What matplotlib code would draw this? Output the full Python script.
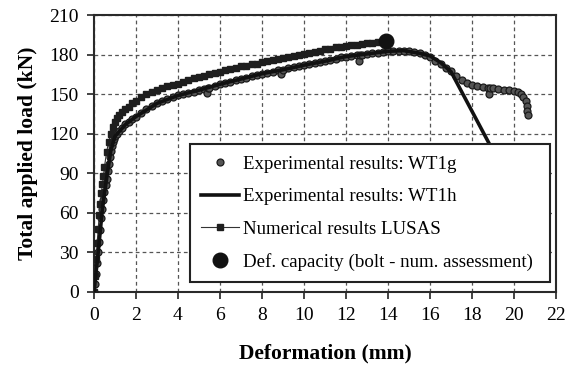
import matplotlib

matplotlib.use("Agg")
import matplotlib.pyplot as plt

plt.rcParams["font.family"] = ["Liberation Serif", "DejaVu Serif"]

# Numerical results (LUSAS), up to the bolt deformation capacity
num_x = [0, 0.05, 0.1, 0.15, 0.2, 0.25, 0.3, 0.35, 0.4, 0.45, 0.5, 0.6, 0.7, 0.8,
         0.9, 1.0, 1.1, 1.2, 1.35, 1.5, 1.65, 1.8, 2.0, 2.25, 2.5, 2.75, 3.0, 3.25,
         3.5, 3.75, 4.0, 4.25, 4.5, 4.75, 5.0, 5.25, 5.5, 5.75, 6.0, 6.25, 6.5,
         6.75, 7.0, 7.25, 7.5, 7.75, 8.0, 8.25, 8.5, 8.75, 9.0, 9.25, 9.5, 9.75,
         10.0, 10.25, 10.5, 10.75, 11.0, 11.25, 11.5, 11.75, 12.0, 12.25, 12.5,
         12.75, 13.0, 13.25, 13.5, 13.75, 13.9]
num_y = [0, 12, 25, 37, 48, 58, 67, 75, 82, 88, 95, 106, 114, 120,
         125, 129, 132, 134, 136.5, 138.5, 140.5, 143, 145, 147.5, 150, 152, 153, 154.5,
         156, 157, 158, 159, 160.5, 162, 163, 164, 165, 166, 167, 168, 169,
         170, 171, 171.5, 172.5, 173, 174, 175, 176, 176.5, 177.5, 178.5, 179, 180,
         180.5, 181.5, 182, 183, 184, 184.5, 185.5, 186, 186.5, 187, 187.5,
         188, 188.5, 189, 189.5, 190, 190.5]

# Experimental test WT1g (individual readings, incl. small unloadings)
wt1g_x = [0, 0.05, 0.1, 0.15, 0.2, 0.25, 0.3, 0.35, 0.4, 0.45, 0.5, 0.55, 0.6, 0.65,
          0.7, 0.75, 0.8, 0.85, 0.9, 0.95, 1.0, 1.1, 1.2, 1.35, 1.5, 1.65, 1.8, 2.0,
          2.25, 2.5, 2.75, 3.0, 3.25, 3.5, 3.75, 4.0, 4.25, 4.5, 4.75, 5.0, 5.25,
          5.4, 5.45, 5.5, 5.75, 6.0, 6.25, 6.5, 6.75, 7.0, 7.25, 7.5, 7.75, 8.0,
          8.25, 8.5, 8.75, 8.9, 9.0, 9.25, 9.5, 9.75, 10.0, 10.25, 10.5, 10.75,
          11.0, 11.25, 11.5, 11.75, 12.0, 12.25, 12.5, 12.6, 12.65, 12.75, 13.0,
          13.25, 13.5, 13.75, 14.0, 14.25, 14.5, 14.75, 15.0, 15.25, 15.5, 15.75,
          16.0, 16.25, 16.5, 16.75, 17.0, 17.25, 17.5, 17.75, 18.0, 18.25, 18.5,
          18.75, 18.8, 18.85, 19.0, 19.25, 19.5, 19.75, 20.0, 20.2, 20.35, 20.45,
          20.55, 20.6, 20.62, 20.65]
wt1g_y = [0, 6, 14, 22, 30, 38, 47, 56, 63, 70, 76, 81, 86, 92,
          97, 102, 107, 111, 114, 116, 118, 120, 122, 124.5, 127, 129, 131, 133,
          136, 138.5, 141, 143, 144.5, 146, 147.5, 149, 150, 151, 152, 153, 154,
          150.5, 154.5, 155, 156, 157.5, 158.5, 159.5, 160.5, 161.5, 162.5, 163.5, 164.5, 165.5,
          166, 167, 168, 165, 168.5, 169.5, 170.5, 171, 172, 173, 173.5, 174.5,
          175, 176, 177, 178, 178.5, 179, 179.5, 175, 179.5, 180, 180.5,
          181, 181.5, 182, 182.5, 183, 183, 183, 182.5, 182, 181, 179.5,
          178, 175.5, 172.5, 170, 167.5, 164, 161, 158.5, 157, 156, 155.5,
          155, 150, 155, 154.5, 154, 153.5, 153, 152.5, 151.5, 150, 148,
          145, 141, 137.5, 134]

# Experimental test WT1h (continuous record)
wt1h_x = [0, 0.2, 0.4, 0.6, 0.8, 1.0, 1.5, 2.0, 3.0, 4.0, 5.0, 6.0, 7.0, 8.0, 9.0,
          10.0, 11.0, 12.0, 13.0, 14.0, 14.75, 15.5, 16.0, 16.5, 17.0, 18.8, 19.6]
wt1h_y = [0, 30, 63, 86, 107, 118, 127, 133, 143, 149, 153, 157.5, 161.5, 165.5, 168.5,
          172, 175, 178.5, 180.5, 182.5, 183, 181, 179, 174, 167, 113, 88]

# Deformation capacity of the bolt (numerical assessment)
cap_x = [13.9]
cap_y = [190.5]

fig, ax = plt.subplots(figsize=(5.78, 3.66), dpi=100)
fig.subplots_adjust(left=0.1626, right=0.962, bottom=0.2022, top=0.959)

ax.plot(wt1g_x, wt1g_y, ls="none", marker="o", ms=5.0, mfc="#555555",
        mec="#1a1a1a", mew=0.9, label="Experimental results: WT1g", zorder=3)
ax.plot(wt1h_x, wt1h_y, color="#111111", lw=2.6,
        label="Experimental results: WT1h", zorder=4)
ax.plot(num_x, num_y, color="#333333", lw=0.8, marker="s", ms=4.3,
        mfc="#1e1e1e", mec="#1e1e1e", label="Numerical results LUSAS", zorder=3)
ax.plot(cap_x, cap_y, ls="none", marker="o", ms=10.5, color="#111111",
        label="Def. capacity (bolt - num. assessment)", zorder=5)

ax.set_xlim(0, 22)
ax.set_ylim(0, 210)
ax.set_xticks(range(0, 23, 2))
ax.set_yticks(range(0, 211, 30))
ax.tick_params(labelsize=14, length=5, width=1.2, color="#222222", pad=6)
ax.grid(True, color="#555555", ls=(0, (3, 2.5)), lw=0.9)
for s in ax.spines.values():
    s.set_linewidth(1.5)
    s.set_color("#2a2a2a")

ax.set_xlabel("Deformation (mm)", fontsize=15.5, fontweight="bold", labelpad=14)
ax.set_ylabel("Total applied load (kN)", fontsize=15.5, fontweight="bold", labelpad=8)

leg = ax.legend(loc="lower left", bbox_to_anchor=(0.208, 0.036, 0.779, 0.502),
                mode="expand", fontsize=13.6, frameon=True, fancybox=False,
                framealpha=1, edgecolor="#222222", handlelength=2.0,
                handletextpad=0.2, labelspacing=0.8, borderpad=0.6,
                borderaxespad=0.0)
leg.get_frame().set_linewidth(1.5)
leg.set_zorder(10)

fig.savefig("out.png", dpi=100)
